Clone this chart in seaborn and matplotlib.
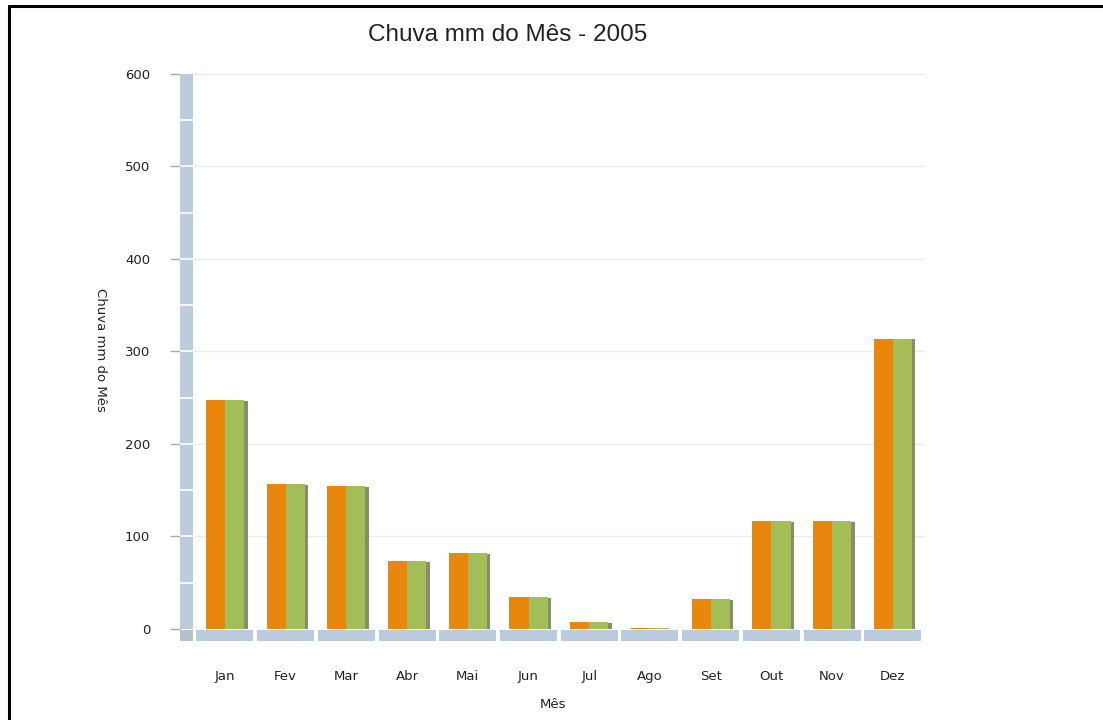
import matplotlib
matplotlib.use("Agg")
import matplotlib.pyplot as plt
from matplotlib.lines import Line2D
from matplotlib.patches import Rectangle
import seaborn as sns
import pandas as pd
import numpy as np

meses = ['Jan', 'Fev', 'Mar', 'Abr', 'Mai', 'Jun', 'Jul', 'Ago', 'Set', 'Out', 'Nov', 'Dez']
serie_a = [248, 157, 155, 73, 82, 35, 8, 1.5, 32, 117, 117, 314]
serie_b = [248, 157, 155, 73, 82, 35, 8, 1.5, 32, 117, 117, 314]
yticks = [0, 100, 200, 300, 400, 500, 600]

titulo = 'Chuva mm do Mês - 2005'
x_label = 'Mês'
y_label = 'Chuva mm do Mês'

df = pd.DataFrame({
    'Mês': meses * 2,
    'valor': serie_a + serie_b,
    'serie': ['A'] * len(meses) + ['B'] * len(meses),
})

sns.set_theme(style='white')
plt.rcParams['font.family'] = ['DejaVu Sans']

W, H = 1103, 720
fig = plt.figure(figsize=(W / 100, H / 100), dpi=100)
fig.patch.set_facecolor('white')

ax_l, ax_r, ax_t, ax_b = 180, 925, 74, 641
ax = fig.add_axes([ax_l / W, (H - ax_b) / H, (ax_r - ax_l) / W, (ax_b - ax_t) / H])
ax.set_facecolor('none')

orange = '#E8870B'
green = '#A3BD58'
sns.barplot(data=df, x='Mês', y='valor', hue='serie', palette=[orange, green],
            width=0.63, saturation=1, legend=False, ax=ax, edgecolor='none',
            linewidth=0, zorder=3)

# shadow on right side of each bar pair
px = 1 / 60.8
for p in ax.patches[len(meses):2 * len(meses)]:
    x0 = p.get_x() + p.get_width()
    h = p.get_height()
    if h > 0:
        ax.add_patch(Rectangle((x0, 0), 3.5 * px, h - 1.0, color='#68724A', alpha=0.8,
                               zorder=2, lw=0))

y_floor_top, y_floor_bot = -1.0, -13.0
# floor segments
ax.bar(np.arange(len(meses)), y_floor_bot - y_floor_top, bottom=y_floor_top,
       width=0.94, color='#BACBDE', zorder=2, linewidth=0)

# left wall
x_wall0 = -0.5 - (194.6 - 180) * px
x_wall1 = x_wall0 + 13 * px
ax.add_patch(Rectangle((x_wall0, 0), x_wall1 - x_wall0, 600, color='#BCCCDB', zorder=2, lw=0))
ax.add_patch(Rectangle((x_wall0, y_floor_bot), x_wall1 - x_wall0, y_floor_top - y_floor_bot,
                       color='#B4C0CC', zorder=2, lw=0))
for yv in range(50, 600, 50):
    ax.plot([x_wall0, x_wall1], [yv, yv], color='white', lw=1.2, zorder=2.5)

# gridlines
for yv in yticks[1:]:
    ax.plot([x_wall1, 11.53], [yv, yv], color='#EBEBEB', lw=1, zorder=1)

ax.set_xlim(x_wall0, 11.53)
ax.set_ylim(y_floor_bot, 600)
for s in ax.spines.values():
    s.set_visible(False)

ax.set_yticks(yticks)
ax.set_yticklabels([str(v) for v in yticks], fontsize=9.5, color='#222222')
ax.tick_params(axis='y', which='major', left=True, length=7, width=1, color='#AAAAAA',
               pad=14.5, direction='out')
ax.tick_params(axis='x', length=0, pad=21, labelsize=9.5, labelcolor='#222222')
for lbl in ax.get_xticklabels():
    lbl.set_fontsize(9.5)

ax.set_xlabel(x_label, fontsize=9.5, color='#222222', labelpad=11)
ax.set_ylabel(y_label, fontsize=9.5, color='#222222', rotation=270, va='center')
ax.yaxis.set_label_coords(-0.107, 0.513)

fig.text(508 / W, 1 - 35 / H, titulo, ha='center', va='center', fontsize=17.5,
         color='#222222', family=['Liberation Sans', 'DejaVu Sans'])

# partial frame: top and left lines
fig.add_artist(Line2D([9 / W, 1], [1 - 6 / H, 1 - 6 / H], color='black', lw=2.2,
                      transform=fig.transFigure))
fig.add_artist(Line2D([9 / W, 9 / W], [0, 1 - 6 / H], color='black', lw=2.2,
                      transform=fig.transFigure))

fig.savefig('out.png', dpi=100, facecolor='white')
